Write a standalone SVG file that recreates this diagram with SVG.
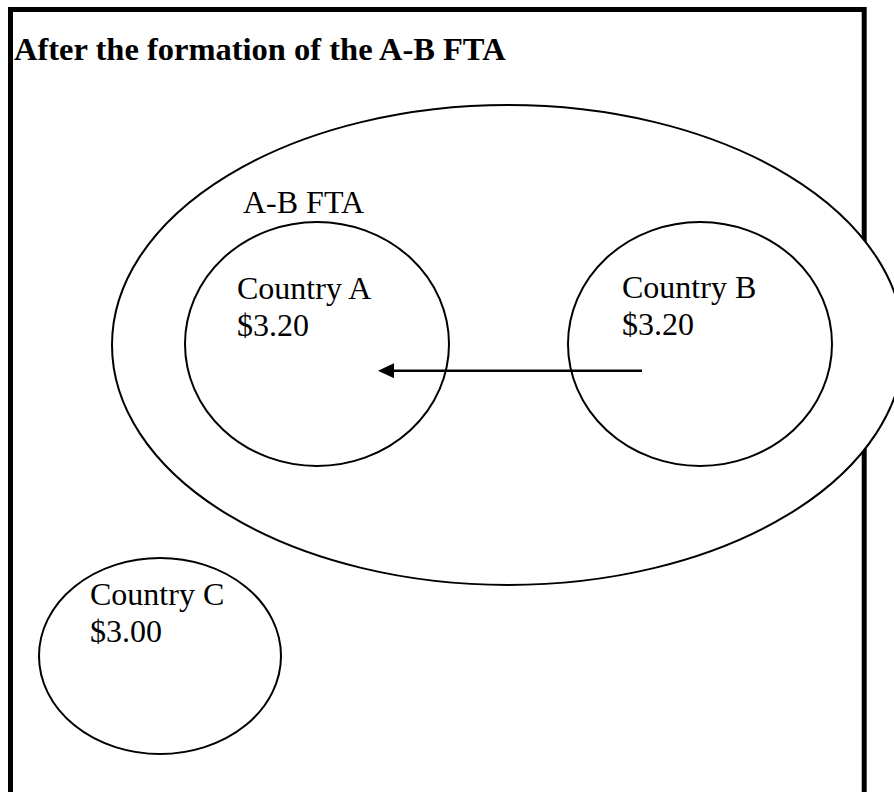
<svg xmlns="http://www.w3.org/2000/svg" width="894" height="792" viewBox="0 0 894 792">
  <style>
    .frame { fill: none; stroke: #000; stroke-width: 5; }
    .ring { fill: none; stroke: #000; stroke-width: 2; }
    .ring-solid { fill: #fff; stroke: #000; stroke-width: 2; }
    .label { font-family: "Liberation Serif", "Times New Roman", serif; font-size: 32px; fill: #000; }
    .title { font-family: "Liberation Serif", "Times New Roman", serif; font-size: 32.5px; font-weight: bold; fill: #000; }
    .flow { stroke: #000; stroke-width: 2.5; fill: none; }
  </style>
  <defs>
    <marker id="head" viewBox="0 0 16 15" refX="1" refY="7.5" markerWidth="16" markerHeight="15" markerUnits="userSpaceOnUse" orient="auto-start-reverse">
      <path d="M0,0 L16,7.5 L0,15 z" fill="#000"/>
    </marker>
  </defs>

  <rect fill="#fff" x="0" y="0" width="894" height="792"/>

  <!-- outer frame, open at the bottom of the page -->
  <rect class="frame" x="10.5" y="9.5" width="853.7" height="810"/>

  <text class="title" x="14" y="60">After the formation of the A-B FTA</text>

  <g id="fta">
    <ellipse class="ring-solid" cx="508" cy="345" rx="396" ry="240"/>
    <text class="label" x="243" y="213">A-B FTA</text>
  </g>

  <g id="country-a">
    <ellipse class="ring" cx="317" cy="344" rx="132" ry="122"/>
    <text class="label" x="237" y="299">Country A</text>
    <text class="label" x="237" y="336">$3.20</text>
  </g>

  <g id="country-b">
    <ellipse class="ring" cx="700" cy="344" rx="132" ry="122"/>
    <text class="label" x="622" y="298">Country B</text>
    <text class="label" x="622" y="335">$3.20</text>
  </g>

  <g id="country-c">
    <ellipse class="ring" cx="160" cy="656" rx="121" ry="98"/>
    <text class="label" x="90" y="605">Country C</text>
    <text class="label" x="90" y="642">$3.00</text>
  </g>

  <g id="connectors">
    <line class="flow" x1="642" y1="370.7" x2="393" y2="370.7" marker-end="url(#head)"/>
  </g>
</svg>
